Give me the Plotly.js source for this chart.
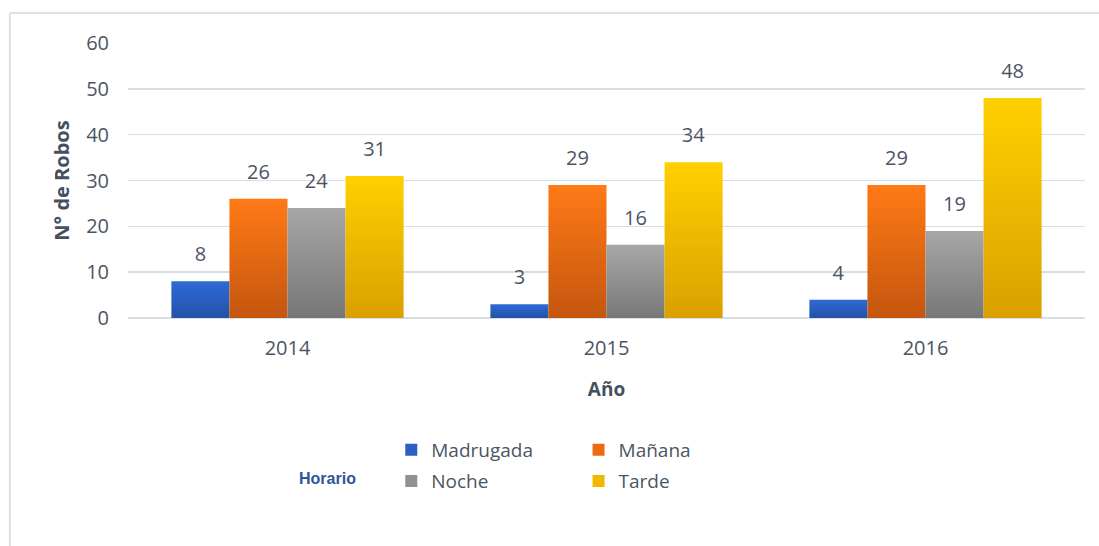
<!DOCTYPE html>
<html>
<head>
<meta charset="utf-8">
<script src="https://cdn.plot.ly/plotly-3.0.1.min.js"></script>
<style>
html,body{margin:0;padding:0;background:#fff;}
#chart{width:1099px;height:546px;}
</style>
</head>
<body>
<div id="chart"></div>
<script>
const years = ['2014', '2015', '2016'];
const madrugada = [8, 3, 4];
const manana = [26, 29, 29];
const noche = [24, 16, 19];
const tarde = [31, 34, 48];
const seriesNames = ['Madrugada', 'Mañana', 'Noche', 'Tarde'];
const seriesValues = [madrugada, manana, noche, tarde];
const solidColors = ['#2b5fc4', '#ec6a12', '#919191', '#f0b800'];
const gradStops = [['#2f6ad8', '#2451a6'], ['#ff7a16', '#c4560f'], ['#a7a7a7', '#777777'], ['#ffd000', '#daa000']];

const legendIds = ['legend', 'legend3', 'legend2', 'legend4'];
const textColor = '#4c5564';

const traces = seriesNames.map((name, i) => ({
  type: 'bar',
  name: name,
  x: years,
  y: seriesValues[i],
  marker: {color: solidColors[i], line: {width: 0}},
  text: seriesValues[i].map(String),
  textposition: 'outside',
  cliponaxis: false,
  textfont: {family: 'Open Sans, sans-serif', size: 20, color: textColor},
  legend: legendIds[i],
  hoverinfo: 'x+y+name'
}));

const legendBase = {
  orientation: 'v',
  font: {family: 'Open Sans, sans-serif', size: 19, color: textColor},
  bgcolor: 'rgba(0,0,0,0)',
  xanchor: 'left',
  yanchor: 'middle',
  itemclick: false,
  itemdoubleclick: false
};

const layout = {
  width: 1099,
  height: 546,
  margin: {l: 128, r: 14, t: 43, b: 228},
  paper_bgcolor: '#ffffff',
  plot_bgcolor: '#ffffff',
  barmode: 'group',
  bargap: 0.272,
  bargroupgap: 0,
  showlegend: true,
  legend: Object.assign({}, legendBase, {x: 0.2751, y: -0.48}),
  legend2: Object.assign({}, legendBase, {x: 0.2751, y: -0.593}),
  legend3: Object.assign({}, legendBase, {x: 0.4708, y: -0.48}),
  legend4: Object.assign({}, legendBase, {x: 0.4708, y: -0.593}),
  xaxis: {
    type: 'category',
    showgrid: false,
    showline: false,
    zeroline: false,
    ticks: '',
    ticklabelstandoff: 16,
    tickfont: {family: 'Open Sans, sans-serif', size: 20, color: textColor},
    title: {text: 'Año', standoff: 22, font: {family: 'Open Sans, sans-serif', size: 19, color: '#444f5f', weight: 'bold'}}
  },
  yaxis: {
    range: [0, 60],
    dtick: 10,
    showgrid: true,
    gridcolor: '#d9dee5',
    gridwidth: 1.5,
    zeroline: true,
    zerolinecolor: '#d9dee5',
    zerolinewidth: 1.5,
    showline: false,
    ticks: '',
    ticklabelstandoff: 18,
    tickfont: {family: 'Open Sans, sans-serif', size: 20, color: textColor},
    title: {text: 'N° de Robos', standoff: 11, font: {family: 'Open Sans, sans-serif', size: 20, color: '#444f5f', weight: 'bold'}}
  },
  annotations: [{
    text: '<b>Horario</b>',
    xref: 'paper', yref: 'paper',
    x: 0.208, y: -0.582,
    xanchor: 'center', yanchor: 'middle',
    showarrow: false,
    font: {family: 'Liberation Sans, Arial, sans-serif', size: 16, color: '#2f5597'}
  }],
  shapes: [
    {type: 'line', xref: 'paper', yref: 'paper', x0: -0.1234, x1: 1.2, y0: 1.109, y1: 1.109, line: {color: '#dde1e8', width: 2}},
    {type: 'line', xref: 'paper', yref: 'paper', x0: -0.1234, x1: -0.1234, y0: 1.109, y1: -0.9, line: {color: '#dde1e8', width: 2}}
  ]
};

function decorate() {
  const svg = document.querySelector('#chart .main-svg');
  if (!svg) return;
  const ns = 'http://www.w3.org/2000/svg';
  let defs = svg.querySelector('defs');
  if (!defs) { defs = document.createElementNS(ns, 'defs'); svg.insertBefore(defs, svg.firstChild); }
  gradStops.forEach((stops, i) => {
    if (document.getElementById('bargrad' + i)) return;
    const g = document.createElementNS(ns, 'linearGradient');
    g.setAttribute('id', 'bargrad' + i);
    g.setAttribute('x1', '0'); g.setAttribute('y1', '0');
    g.setAttribute('x2', '0'); g.setAttribute('y2', '1');
    stops.forEach((c, k) => {
      const s = document.createElementNS(ns, 'stop');
      s.setAttribute('offset', k === 0 ? '0' : '1');
      s.setAttribute('stop-color', c);
      g.appendChild(s);
    });
    defs.appendChild(g);
  });
  const traceGroups = document.querySelectorAll('#chart .barlayer .trace');
  traceGroups.forEach((tg, i) => {
    tg.querySelectorAll('.point path').forEach(p => { p.style.fill = 'url(#bargrad' + i + ')'; });
    tg.querySelectorAll('.point text').forEach(t => {
      if (t.dataset.shifted) return;
      const tr = t.getAttribute('transform') || '';
      t.setAttribute('transform', 'translate(0,-11) ' + tr);
      t.dataset.shifted = '1';
    });
  });
}

Plotly.newPlot('chart', traces, layout, {displayModeBar: false, staticPlot: true}).then(() => {
  decorate();
});
</script>
</body>
</html>
